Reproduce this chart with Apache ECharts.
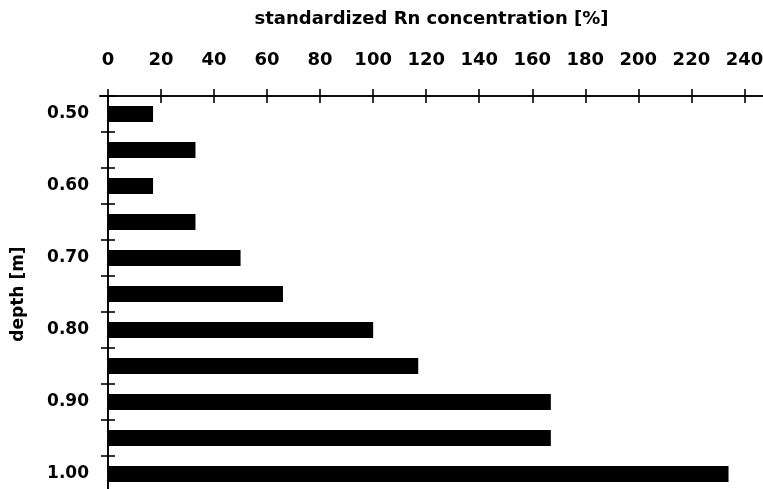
<!DOCTYPE html>
<html>
<head>
<meta charset="utf-8">
<script src="https://cdn.jsdelivr.net/npm/echarts@6/dist/echarts.min.js"></script>
<style>
html,body{margin:0;padding:0;background:#fff;}
#c{width:763px;height:489px;}
</style>
</head>
<body>
<div id="c"></div>
<script>
var depths = ['0.50','0.55','0.60','0.65','0.70','0.75','0.80','0.85','0.90','0.95','1.00'];
var rnValues = [17, 33, 17, 33, 50, 66, 100, 117, 167, 167, 234];
var xTicks = [0, 20, 40, 60, 80, 100, 120, 140, 160, 180, 200, 220, 240];
var xTitle = 'standardized Rn concentration [%]';
var yTitle = 'depth [m]';

var FONT = 'DejaVu Sans';
var lineStyle = {color: '#000', width: 1.6};

function xAxisDef(inside, main) {
  return {
    type: 'value', position: 'top', min: -3, max: 247,
    axisLine: {show: true, onZero: false, lineStyle: lineStyle},
    axisTick: {show: true, inside: inside, length: 7, customValues: xTicks, lineStyle: lineStyle},
    axisLabel: {show: main, customValues: xTicks, margin: 27, color: '#000',
      fontFamily: FONT, fontWeight: 'bold', fontSize: 18},
    splitLine: {show: false},
    name: main ? xTitle : '', nameLocation: 'middle', nameGap: 68,
    nameTextStyle: {color: '#000', fontFamily: FONT, fontWeight: 'bold', fontSize: 18}
  };
}
function yAxisDef(inside, main) {
  return {
    type: 'category', position: 'left', inverse: true, data: depths,
    axisLine: {show: true, onZero: true, lineStyle: lineStyle},
    axisTick: {show: true, inside: inside, length: 7, interval: 0, lineStyle: lineStyle},
    axisLabel: {show: main, interval: 1, margin: 11, color: '#000',
      fontFamily: FONT, fontWeight: 'bold', fontSize: 17},
    splitLine: {show: false},
    name: main ? yTitle : '', nameLocation: 'middle', nameGap: 73, nameRotate: 90,
    nameTextStyle: {color: '#000', fontFamily: FONT, fontWeight: 'bold', fontSize: 17}
  };
}

var chart = echarts.init(document.getElementById('c'), null, {renderer: 'canvas'});
chart.setOption({
  backgroundColor: '#fff',
  animation: false,
  grid: {left: 100, right: 0, top: 96, bottom: -3, containLabel: false, outerBoundsMode: 'none'},
  xAxis: [xAxisDef(false, true), xAxisDef(true, false)],
  yAxis: [yAxisDef(false, true), yAxisDef(true, false)],
  series: [{
    type: 'bar', xAxisIndex: 0, yAxisIndex: 0,
    data: rnValues, barWidth: 16,
    itemStyle: {color: '#000'}
  }]
});
</script>
</body>
</html>
